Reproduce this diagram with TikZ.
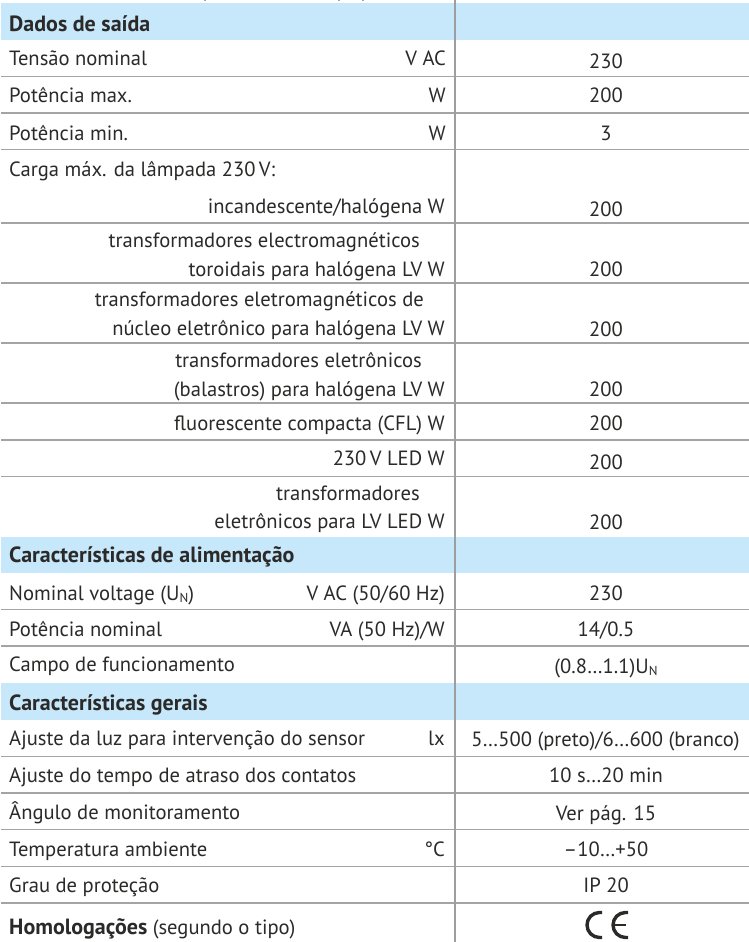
\documentclass[tikz,border=0pt]{standalone}
\usepackage{fontspec}
\setmainfont{PT Sans}
\definecolor{txt}{HTML}{2B2A29}
\definecolor{hdr}{HTML}{C6E8FA}
\definecolor{rule}{HTML}{A3A4A6}
\definecolor{vrule}{HTML}{9C9EA0}
\tikzset{
  base/.style={inner sep=0pt,text=txt,font=\fontsize{20.6}{24}\selectfont},
  lab/.style={base,anchor=base west},
  unit/.style={base,anchor=base east},
  val/.style={base,anchor=base},
  head/.style={base,anchor=base west,font=\fontsize{22}{24}\selectfont\bfseries},
  hline/.style={draw=rule,line width=1.4pt},
  vline/.style={draw=vrule,line width=2pt},
  band/.style={fill=hdr,draw=none},
  cemark/.style={draw=txt,line width=3.4pt,fill=none}
}
\newcommand{\subN}{\raisebox{-0.25ex}{\fontsize{13}{14}\selectfont N}}
\begin{document}
\begin{tikzpicture}[x=1pt,y=-1pt]
\useasboundingbox (0,0) rectangle (749,942);
\fill[white] (0,0) rectangle (749,942);
\fill[band] (1,3.5) rectangle (749,40);
\fill[band] (1,536.7) rectangle (749,573);
\fill[band] (1,683.3) rectangle (749,720);
\foreach \y in {76.7,113,149.5,223,283,343,403,440,476.5,609.5,646,756.5,793,829.5,866.5}
  \draw[hline] (1,\y) -- (749,\y);
\draw[hline,line width=1.9pt] (1,903) -- (749,903);
\coordinate (vt) at (455,0);
\coordinate (vb) at (455,942);
\draw[vline] (vt) -- (vb);
\foreach \x in {205,339,363} \fill[rule] (\x-1,0) rectangle (\x+1,1.5);
% section 1
\node[head] (h1) at (9,32) {Dados de saída};
\node[lab] (a1) at (9,65.7) {Tensão nominal};
\node[unit] (u1) at (446,65.7) {V AC};
\node[val] (v1) at (606,69) {230};
\node[lab] (a2) at (9,102.6) {Potência max.};
\node[unit] (u2) at (446,102.6) {W};
\node[val] (v2) at (606,102.6) {200};
\node[lab] (a3) at (9,140) {Potência min.};
\node[unit] (u3) at (446,140) {W};
\node[val] (v3) at (606,140) {3};
\node[lab] (a4) at (9,176.7) {Carga máx. da lâmpada 230\,V:};
\node[unit] (u5) at (445,213.3) {incandescente/halógena W};
\node[val] (v5) at (606,216) {200};
\node[unit] (u6a) at (420,247.7) {transformadores electromagnéticos};
\node[unit] (u6) at (445,276) {toroidais para halógena LV W};
\node[val] (v6) at (606,276) {200};
\node[unit] (u7a) at (424,306.7) {transformadores eletromagnéticos de};
\node[unit] (u7) at (445,335.7) {núcleo eletrônico para halógena LV W};
\node[val] (v7) at (606,336) {200};
\node[unit] (u8a) at (422,367) {transformadores eletrônicos};
\node[unit] (u8) at (445,396) {(balastros) para halógena LV W};
\node[val] (v8) at (606,396) {200};
\node[unit] (u9) at (445,430) {fluorescente compacta (CFL) W};
\node[val] (v9) at (606,430) {200};
\node[unit] (u10) at (445,465.7) {230\,V LED W};
\node[val] (v10) at (606,469) {200};
\node[unit] (u11a) at (420,500) {transformadores};
\node[unit] (u11) at (445,528.7) {eletrônicos para LV LED W};
\node[val] (v11) at (606,529) {200};
% section 2
\node[head] (h2) at (9,562.7) {Características de alimentação};
\node[lab] (b1) at (9,600) {Nominal voltage (U\subN)};
\node[unit] (bu1) at (445,600) {V AC (50/60 Hz)};
\node[val] (bv1) at (606,600) {230};
\node[lab] (b2) at (9,636.7) {Potência nominal};
\node[unit] (bu2) at (445,636.7) {VA (50 Hz)/W};
\node[val] (bv2) at (606,636.7) {14/0.5};
\node[lab] (b3) at (9,671.7) {Campo de funcionamento};
\node[val] (bv3) at (606,673.3) {(0.8…1.1)U\subN};
% section 3
\node[head] (h3) at (9,710) {Características gerais};
\node[lab] (c1) at (9,745.7) {Ajuste da luz para intervenção do sensor};
\node[unit] (cu1) at (445,745.7) {lx};
\node[val] (cv1) at (605.5,746) {5…500 (preto)/6…600 (branco)};
\node[lab] (c2) at (9,782.7) {Ajuste do tempo de atraso dos contatos};
\node[val] (cv2) at (606,782.7) {10 s…20 min};
\node[lab] (c3) at (9,819) {Ângulo de monitoramento};
\node[val] (cv3) at (606,820) {Ver pág. 15};
\node[lab] (c4) at (9,856) {Temperatura ambiente};
\node[unit] (cu4) at (445,856) {°C};
\node[val] (cv4) at (606,856) {–10…+50};
\node[lab] (c5) at (9,892.7) {Grau de proteção};
\node[val] (cv5) at (606,892.7) {IP 20};
\node[lab] (c6) at (9,934) {\textbf{\fontsize{22}{24}\selectfont Homologações} (segundo o tipo)};
% CE mark
\draw[cemark] (602,912.5) -- (599.5,912.5) arc[start angle=270,end angle=90,radius=12.5] -- (602,937.5);
\draw[cemark] (628,912.5) -- (625.5,912.5) arc[start angle=270,end angle=90,radius=12.5] -- (628,937.5);
\draw[txt,line width=2.8pt] (614,925) -- (626,925);
\end{tikzpicture}
\end{document}
